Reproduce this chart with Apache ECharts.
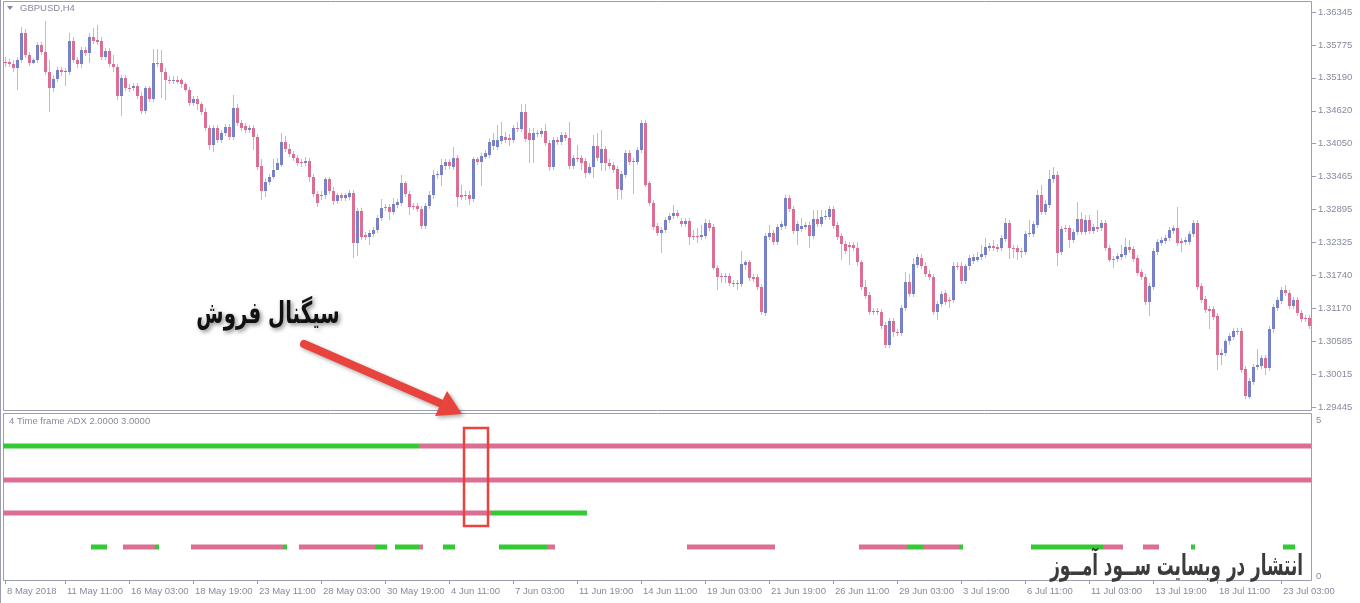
<!DOCTYPE html>
<html><head><meta charset="utf-8">
<script src="https://cdn.jsdelivr.net/npm/echarts@6/dist/echarts.min.js"></script>
<style>html,body{margin:0;padding:0;background:#fff}#c{width:1360px;height:603px}</style>
</head><body><div id="c"></div>
<script>
// GBPUSD H4 candles: [open, close, low, high]
const candles = [
[1.3548,1.3546,1.3539,1.3556],[1.3548,1.3544,1.3539,1.3553],[1.3544,1.3536,1.3530,1.3550],[1.3536,1.3550,1.3499,1.3556],
[1.3550,1.3598,1.3546,1.3609],[1.3598,1.3560,1.3555,1.3604],[1.3560,1.3546,1.3541,1.3565],[1.3546,1.3550,1.3543,1.3555],
[1.3550,1.3577,1.3546,1.3583],[1.3577,1.3565,1.3560,1.3583],[1.3565,1.3530,1.3525,1.3618],[1.3530,1.3501,1.3460,1.3551],
[1.3501,1.3518,1.3495,1.3525],[1.3518,1.3534,1.3513,1.3539],[1.3534,1.3529,1.3523,1.3539],[1.3529,1.3532,1.3506,1.3537],
[1.3530,1.3584,1.3525,1.3598],[1.3584,1.3551,1.3546,1.3590],[1.3551,1.3543,1.3537,1.3556],[1.3543,1.3569,1.3537,1.3574],
[1.3569,1.3563,1.3558,1.3574],[1.3563,1.3590,1.3546,1.3598],[1.3590,1.3584,1.3579,1.3607],[1.3586,1.3583,1.3577,1.3612],
[1.3584,1.3556,1.3551,1.3590],[1.3556,1.3567,1.3551,1.3572],[1.3567,1.3544,1.3539,1.3572],[1.3544,1.3539,1.3530,1.3560],
[1.3539,1.3487,1.3481,1.3544],[1.3487,1.3520,1.3452,1.3525],[1.3520,1.3502,1.3497,1.3525],[1.3502,1.3501,1.3495,1.3508],
[1.3502,1.3506,1.3497,1.3511],[1.3506,1.3488,1.3483,1.3511],[1.3488,1.3462,1.3457,1.3494],[1.3462,1.3501,1.3457,1.3506],
[1.3501,1.3483,1.3478,1.3506],[1.3483,1.3546,1.3478,1.3570],[1.3546,1.3544,1.3539,1.3570],[1.3546,1.3530,1.3485,1.3569],
[1.3530,1.3515,1.3481,1.3536],[1.3516,1.3515,1.3509,1.3522],[1.3515,1.3516,1.3509,1.3522],[1.3516,1.3513,1.3508,1.3522],
[1.3515,1.3508,1.3502,1.3520],[1.3508,1.3499,1.3494,1.3513],[1.3499,1.3476,1.3471,1.3504],[1.3476,1.3483,1.3471,1.3488],
[1.3483,1.3473,1.3464,1.3488],[1.3473,1.3460,1.3455,1.3478],[1.3460,1.3432,1.3427,1.3466],[1.3432,1.3403,1.3394,1.3438],
[1.3403,1.3432,1.3390,1.3438],[1.3432,1.3411,1.3406,1.3438],[1.3411,1.3424,1.3406,1.3429],[1.3424,1.3434,1.3418,1.3439],
[1.3434,1.3417,1.3411,1.3439],[1.3417,1.3467,1.3411,1.3490],[1.3467,1.3441,1.3436,1.3473],[1.3441,1.3432,1.3427,1.3446],
[1.3436,1.3429,1.3424,1.3441],[1.3429,1.3432,1.3424,1.3438],[1.3432,1.3417,1.3394,1.3438],[1.3417,1.3364,1.3359,1.3422],
[1.3366,1.3322,1.3307,1.3377],[1.3322,1.3338,1.3312,1.3345],[1.3338,1.3347,1.3333,1.3352],[1.3347,1.3359,1.3342,1.3377],
[1.3359,1.3371,1.3366,1.3380],[1.3368,1.3408,1.3363,1.3424],[1.3408,1.3396,1.3390,1.3418],[1.3396,1.3387,1.3382,1.3404],
[1.3387,1.3380,1.3375,1.3392],[1.3380,1.3371,1.3366,1.3385],[1.3373,1.3371,1.3363,1.3378],[1.3371,1.3375,1.3366,1.3382],
[1.3375,1.3347,1.3338,1.3380],[1.3347,1.3317,1.3312,1.3352],[1.3317,1.3301,1.3294,1.3322],[1.3315,1.3314,1.3307,1.3321],
[1.3314,1.3342,1.3308,1.3347],[1.3342,1.3322,1.3317,1.3347],[1.3322,1.3305,1.3298,1.3328],[1.3305,1.3314,1.3300,1.3319],
[1.3314,1.3310,1.3305,1.3319],[1.3310,1.3314,1.3305,1.3319],[1.3312,1.3319,1.3307,1.3324],[1.3319,1.3231,1.3205,1.3324],
[1.3231,1.3287,1.3209,1.3293],[1.3287,1.3242,1.3237,1.3293],[1.3245,1.3242,1.3237,1.3251],[1.3242,1.3249,1.3228,1.3254],
[1.3247,1.3254,1.3242,1.3259],[1.3254,1.3275,1.3249,1.3280],[1.3275,1.3293,1.3270,1.3308],[1.3294,1.3293,1.3287,1.3300],
[1.3294,1.3286,1.3272,1.3300],[1.3286,1.3300,1.3280,1.3310],[1.3298,1.3303,1.3293,1.3308],[1.3301,1.3335,1.3296,1.3350],
[1.3335,1.3317,1.3312,1.3340],[1.3317,1.3294,1.3280,1.3322],[1.3296,1.3294,1.3289,1.3301],[1.3296,1.3291,1.3286,1.3301],
[1.3291,1.3261,1.3256,1.3296],[1.3261,1.3296,1.3256,1.3301],[1.3296,1.3315,1.3291,1.3321],[1.3314,1.3349,1.3308,1.3359],
[1.3349,1.3352,1.3342,1.3357],[1.3350,1.3368,1.3331,1.3377],[1.3366,1.3373,1.3359,1.3378],[1.3373,1.3366,1.3361,1.3378],
[1.3364,1.3380,1.3359,1.3399],[1.3380,1.3312,1.3294,1.3385],[1.3315,1.3312,1.3307,1.3333],[1.3315,1.3314,1.3307,1.3321],
[1.3315,1.3308,1.3298,1.3321],[1.3308,1.3377,1.3303,1.3382],[1.3377,1.3373,1.3368,1.3382],[1.3373,1.3383,1.3331,1.3389],
[1.3382,1.3389,1.3377,1.3394],[1.3385,1.3408,1.3380,1.3415],[1.3401,1.3411,1.3394,1.3424],[1.3399,1.3411,1.3394,1.3438],
[1.3410,1.3418,1.3404,1.3443],[1.3417,1.3411,1.3406,1.3425],[1.3415,1.3411,1.3401,1.3422],[1.3411,1.3432,1.3406,1.3438],
[1.3432,1.3431,1.3425,1.3443],[1.3431,1.3460,1.3425,1.3474],[1.3460,1.3413,1.3408,1.3473],[1.3424,1.3411,1.3371,1.3432],
[1.3411,1.3424,1.3371,1.3432],[1.3424,1.3422,1.3417,1.3429],[1.3422,1.3427,1.3417,1.3432],[1.3427,1.3406,1.3401,1.3439],
[1.3406,1.3364,1.3357,1.3411],[1.3364,1.3411,1.3359,1.3417],[1.3411,1.3408,1.3403,1.3417],[1.3408,1.3420,1.3403,1.3425],
[1.3420,1.3415,1.3410,1.3425],[1.3415,1.3366,1.3361,1.3443],[1.3366,1.3380,1.3361,1.3385],[1.3380,1.3378,1.3373,1.3403],
[1.3380,1.3371,1.3359,1.3385],[1.3375,1.3354,1.3345,1.3380],[1.3354,1.3364,1.3349,1.3370],[1.3364,1.3401,1.3345,1.3420],
[1.3401,1.3380,1.3375,1.3424],[1.3371,1.3396,1.3356,1.3429],[1.3396,1.3371,1.3356,1.3401],[1.3371,1.3366,1.3361,1.3377],
[1.3368,1.3359,1.3354,1.3373],[1.3361,1.3326,1.3307,1.3366],[1.3324,1.3352,1.3308,1.3357],[1.3350,1.3389,1.3345,1.3394],
[1.3389,1.3373,1.3368,1.3394],[1.3375,1.3373,1.3317,1.3380],[1.3373,1.3394,1.3368,1.3399],[1.3394,1.3441,1.3389,1.3446],
[1.3441,1.3333,1.3328,1.3446],[1.3335,1.3301,1.3296,1.3340],[1.3301,1.3259,1.3254,1.3307],[1.3261,1.3249,1.3244,1.3266],
[1.3249,1.3254,1.3214,1.3259],[1.3254,1.3272,1.3249,1.3277],[1.3272,1.3279,1.3266,1.3284],[1.3279,1.3284,1.3273,1.3298],
[1.3284,1.3279,1.3275,1.3289],[1.3270,1.3265,1.3259,1.3275],[1.3265,1.3270,1.3259,1.3275],[1.3270,1.3242,1.3228,1.3275],
[1.3244,1.3242,1.3237,1.3254],[1.3244,1.3242,1.3231,1.3258],[1.3242,1.3245,1.3237,1.3263],[1.3244,1.3266,1.3238,1.3273],
[1.3266,1.3258,1.3252,1.3272],[1.3259,1.3188,1.3183,1.3265],[1.3188,1.3172,1.3149,1.3193],[1.3174,1.3172,1.3162,1.3179],
[1.3172,1.3174,1.3162,1.3179],[1.3174,1.3162,1.3156,1.3179],[1.3162,1.3160,1.3155,1.3167],[1.3162,1.3160,1.3149,1.3167],
[1.3160,1.3195,1.3155,1.3217],[1.3193,1.3197,1.3184,1.3202],[1.3197,1.3170,1.3165,1.3202],[1.3172,1.3169,1.3163,1.3177],
[1.3172,1.3155,1.3149,1.3177],[1.3155,1.3111,1.3106,1.3160],[1.3109,1.3244,1.3104,1.3249],[1.3242,1.3249,1.3237,1.3263],
[1.3249,1.3233,1.3228,1.3254],[1.3233,1.3259,1.3228,1.3265],[1.3259,1.3265,1.3254,1.3270],[1.3261,1.3310,1.3256,1.3314],
[1.3310,1.3291,1.3286,1.3315],[1.3291,1.3252,1.3247,1.3296],[1.3252,1.3265,1.3228,1.3270],[1.3256,1.3261,1.3251,1.3275],
[1.3259,1.3263,1.3254,1.3268],[1.3263,1.3244,1.3223,1.3268],[1.3244,1.3273,1.3238,1.3289],[1.3273,1.3265,1.3259,1.3289],
[1.3265,1.3277,1.3259,1.3289],[1.3277,1.3279,1.3272,1.3289],[1.3277,1.3291,1.3272,1.3296],[1.3291,1.3261,1.3256,1.3296],
[1.3263,1.3242,1.3237,1.3268],[1.3244,1.3230,1.3202,1.3249],[1.3230,1.3217,1.3212,1.3235],[1.3228,1.3224,1.3193,1.3233],
[1.3228,1.3223,1.3217,1.3233],[1.3223,1.3197,1.3191,1.3233],[1.3197,1.3155,1.3149,1.3202],[1.3155,1.3139,1.3134,1.3167],
[1.3141,1.3111,1.3106,1.3146],[1.3113,1.3111,1.3106,1.3118],[1.3111,1.3113,1.3106,1.3118],[1.3111,1.3086,1.3081,1.3116],
[1.3088,1.3053,1.3048,1.3093],[1.3053,1.3095,1.3048,1.3100],[1.3095,1.3076,1.3066,1.3100],[1.3076,1.3074,1.3069,1.3081],
[1.3074,1.3118,1.3069,1.3123],[1.3118,1.3163,1.3113,1.3181],[1.3163,1.3142,1.3137,1.3176],[1.3142,1.3195,1.3137,1.3205],
[1.3193,1.3207,1.3188,1.3212],[1.3205,1.3191,1.3186,1.3212],[1.3191,1.3177,1.3172,1.3197],[1.3177,1.3172,1.3167,1.3183],
[1.3172,1.3111,1.3106,1.3177],[1.3111,1.3125,1.3097,1.3130],[1.3125,1.3142,1.3120,1.3148],[1.3144,1.3128,1.3123,1.3149],
[1.3132,1.3130,1.3118,1.3137],[1.3132,1.3191,1.3127,1.3197],[1.3191,1.3190,1.3184,1.3197],[1.3191,1.3165,1.3160,1.3197],
[1.3165,1.3190,1.3160,1.3195],[1.3190,1.3205,1.3184,1.3210],[1.3200,1.3207,1.3195,1.3212],[1.3202,1.3207,1.3197,1.3216],
[1.3207,1.3212,1.3202,1.3228],[1.3210,1.3224,1.3205,1.3240],[1.3223,1.3226,1.3217,1.3231],[1.3226,1.3223,1.3217,1.3237],
[1.3224,1.3221,1.3216,1.3230],[1.3223,1.3240,1.3217,1.3245],[1.3238,1.3266,1.3233,1.3275],[1.3266,1.3223,1.3203,1.3272],
[1.3223,1.3221,1.3205,1.3228],[1.3223,1.3216,1.3202,1.3228],[1.3217,1.3216,1.3205,1.3223],[1.3216,1.3247,1.3210,1.3252],
[1.3247,1.3249,1.3242,1.3272],[1.3247,1.3265,1.3242,1.3270],[1.3263,1.3315,1.3258,1.3324],[1.3315,1.3286,1.3280,1.3333],
[1.3286,1.3300,1.3280,1.3307],[1.3298,1.3343,1.3293,1.3359],[1.3342,1.3350,1.3336,1.3364],[1.3350,1.3214,1.3191,1.3356],
[1.3216,1.3256,1.3210,1.3261],[1.3258,1.3256,1.3251,1.3263],[1.3258,1.3237,1.3223,1.3263],[1.3237,1.3251,1.3231,1.3256],
[1.3251,1.3273,1.3245,1.3303],[1.3273,1.3251,1.3245,1.3286],[1.3251,1.3272,1.3245,1.3280],[1.3272,1.3252,1.3247,1.3280],
[1.3252,1.3259,1.3247,1.3265],[1.3259,1.3256,1.3251,1.3289],[1.3258,1.3266,1.3252,1.3272],[1.3266,1.3223,1.3217,1.3272],
[1.3223,1.3202,1.3197,1.3228],[1.3203,1.3202,1.3188,1.3209],[1.3203,1.3209,1.3198,1.3214],[1.3207,1.3212,1.3202,1.3228],
[1.3210,1.3224,1.3205,1.3240],[1.3224,1.3219,1.3214,1.3237],[1.3221,1.3203,1.3198,1.3226],[1.3205,1.3179,1.3174,1.3210],
[1.3181,1.3172,1.3167,1.3186],[1.3172,1.3128,1.3123,1.3177],[1.3128,1.3156,1.3104,1.3162],[1.3155,1.3217,1.3149,1.3223],
[1.3216,1.3233,1.3210,1.3238],[1.3231,1.3237,1.3226,1.3242],[1.3235,1.3240,1.3230,1.3245],[1.3240,1.3254,1.3235,1.3259],
[1.3252,1.3258,1.3247,1.3263],[1.3258,1.3231,1.3226,1.3294],[1.3235,1.3231,1.3216,1.3240],[1.3233,1.3237,1.3228,1.3242],
[1.3233,1.3247,1.3228,1.3252],[1.3247,1.3266,1.3242,1.3272],[1.3266,1.3155,1.3149,1.3272],[1.3156,1.3132,1.3127,1.3162],
[1.3134,1.3114,1.3109,1.3139],[1.3116,1.3113,1.3080,1.3121],[1.3116,1.3102,1.3097,1.3121],[1.3104,1.3036,1.3010,1.3109],
[1.3036,1.3039,1.3018,1.3045],[1.3039,1.3059,1.3034,1.3064],[1.3059,1.3069,1.3053,1.3074],[1.3067,1.3078,1.3062,1.3083],
[1.3078,1.3076,1.3071,1.3083],[1.3078,1.3010,1.3004,1.3083],[1.3011,1.2964,1.2959,1.3017],[1.2962,1.2990,1.2959,1.2996],
[1.2989,1.3015,1.2983,1.3020],[1.3015,1.3018,1.3010,1.3045],[1.3017,1.3031,1.3011,1.3036],[1.3031,1.3013,1.3001,1.3036],
[1.3013,1.3081,1.3008,1.3086],[1.3080,1.3120,1.3074,1.3125],[1.3118,1.3132,1.3113,1.3137],[1.3130,1.3149,1.3125,1.3155],
[1.3149,1.3144,1.3139,1.3158],[1.3144,1.3121,1.3116,1.3149],[1.3121,1.3132,1.3116,1.3137],[1.3132,1.3109,1.3104,1.3137],
[1.3109,1.3099,1.3093,1.3114],[1.3100,1.3099,1.3093,1.3106],[1.3100,1.3086,1.3081,1.3106]
];

const priceTickLabels = ['1.29445','1.30015','1.30585','1.31170','1.31740','1.32325','1.32895','1.33465','1.34050','1.34620','1.35190','1.35775','1.36345'];
const xTickLabels = ['8 May 2018','11 May 11:00','16 May 03:00','18 May 19:00','23 May 11:00','28 May 03:00','30 May 19:00','4 Jun 11:00','7 Jun 03:00','11 Jun 19:00','14 Jun 11:00','19 Jun 03:00','21 Jun 19:00','26 Jun 11:00','29 Jun 03:00','3 Jul 19:00','6 Jul 11:00','11 Jul 03:00','13 Jul 19:00','18 Jul 11:00','23 Jul 03:00'];
const xTickBars = [0,15,31,47,63,79,95,111,127,143,159,175,191,207,223,239,255,271,287,303,319];

// 4 Time frame ADX: [firstBar, lastBar, colour] per level (4 = top line ... 1 = bottom line)
const adxLevel4 = [[0,103,'green'],[104,326,'pink']];
const adxLevel3 = [[0,326,'pink']];
const adxLevel2 = [[0,121,'pink'],[122,145,'green']];
const adxLevel1 = [[22,25,'green'],[30,37,'pink'],[38,38,'green'],[47,69,'pink'],[70,70,'green'],[74,92,'pink'],[93,95,'green'],[98,103,'green'],[104,104,'pink'],[110,112,'green'],[124,135,'green'],[136,137,'pink'],[171,192,'pink'],[214,225,'pink'],[226,229,'green'],[230,238,'pink'],[239,239,'green'],[257,274,'green'],[275,279,'pink'],[285,288,'pink'],[297,297,'green'],[320,322,'green']];
const adxScaleLabels = ['0','5'];

const BLUE = '#7781c7', PINK = '#db6f92', GREEN = '#35c935', WICK = '#bdbdca';
const FRAME = '#9c9eb0', TXT = '#868a9e';
const FONT = '"Liberation Sans", Arial, sans-serif';

const categories = candles.map((_, i) => String(i));
const candleData = candles.map((d, i) => [i, d[0], d[1], d[2], d[3]]);
const adxData = [];
[[4, adxLevel4], [3, adxLevel3], [2, adxLevel2], [1, adxLevel1]].forEach(([lvl, segs]) => {
  segs.forEach(s => adxData.push([s[0], s[1], lvl, s[2] === 'green' ? 0 : 1]));
});

function renderCandle(params, api) {
  const i = api.value(0), o = api.value(1), c = api.value(2), l = api.value(3), h = api.value(4);
  const cx = Math.round(api.coord([i, o])[0]);
  const yo = api.coord([i, o])[1], yc = api.coord([i, c])[1];
  const yl = Math.round(api.coord([i, l])[1]), yh = Math.round(api.coord([i, h])[1]);
  const top = Math.round(Math.min(yo, yc)), bot = Math.round(Math.max(yo, yc));
  return {
    type: 'group', children: [
      { type: 'rect', shape: { x: cx, y: yh, width: 1, height: Math.max(1, yl - yh) }, style: { fill: WICK } },
      { type: 'rect', shape: { x: cx - 1, y: top, width: 3, height: Math.max(1, bot - top) }, style: { fill: c >= o ? BLUE : PINK } }
    ]
  };
}
function renderSeg(params, api) {
  const s = api.value(0), e = api.value(1), lvl = api.value(2), col = api.value(3);
  const p1 = api.coord([s, lvl]), p2 = api.coord([e, lvl]);
  const bw = api.size([1, 0])[0];
  const x0 = p1[0] - bw / 2, x1 = p2[0] + bw / 2;
  return { type: 'rect', shape: { x: x0, y: Math.round(p1[1]) - 2.5, width: x1 - x0, height: 5 }, style: { fill: col ? PINK : GREEN } };
}

const chart = echarts.init(document.getElementById('c'), null, { renderer: 'canvas' });
const GL = 3, GW = 1308;
const priceAxisBase = { type: 'value', min: 1.29445, max: 1.36345, interval: 0.00575 };
chart.setOption({
  animation: false,
  backgroundColor: '#ffffff',
  grid: [
    { left: GL, width: GW, top: 2, height: 408 },
    { left: GL, width: GW, top: 12, height: 395 },
    { left: GL, width: GW, top: 413, height: 167 },
    { left: GL, width: GW, top: 420, height: 156 },
    { left: 1312, width: 4, top: 12, height: 395 }
  ],
  xAxis: [
    { gridIndex: 0, type: 'category', data: categories, show: false },
    { gridIndex: 1, type: 'value', min: 0, max: 1, show: false },
    { gridIndex: 2, type: 'category', data: categories,
      axisLine: { show: false },
      axisTick: { show: true, alignWithLabel: true, length: 4, lineStyle: { color: FRAME },
        interval: (idx) => xTickBars.indexOf(idx) >= 0 },
      axisLabel: { show: true, align: 'left', margin: 6, padding: [0, 0, 0, 2], fontSize: 9.5, fontFamily: FONT, color: TXT,
        interval: (idx) => xTickBars.indexOf(idx) >= 0,
        formatter: (v, idx) => { const k = xTickBars.indexOf(idx); return k >= 0 ? xTickLabels[k] : ''; } },
      splitLine: { show: false } },
    { gridIndex: 3, type: 'value', min: 0, max: 1, show: false },
    { gridIndex: 4, type: 'value', min: 0, max: 1, show: false }
  ],
  yAxis: [
    { gridIndex: 0, type: 'value', min: 1.29393, max: 1.36520, show: false, scale: true },
    Object.assign({ gridIndex: 1, position: 'right',
      axisLine: { show: false }, splitLine: { show: false }, axisTick: { show: false },
      axisLabel: { margin: 7, fontSize: 9.5, fontFamily: FONT, color: TXT,
        formatter: (v) => { const k = Math.round((v - 1.29445) / 0.00575); return priceTickLabels[k] || ''; } } }, priceAxisBase),
    { gridIndex: 2, type: 'value', min: 0, max: 5, show: false },
    { gridIndex: 3, type: 'value', position: 'right', min: 0, max: 5, interval: 5,
      axisLine: { show: false }, splitLine: { show: false }, axisTick: { show: false },
      axisLabel: { margin: 5, fontSize: 9.5, fontFamily: FONT, color: TXT,
        formatter: (v) => adxScaleLabels[Math.round(v / 5)] } },
    Object.assign({ gridIndex: 4, axisLine: { show: false }, axisTick: { show: false }, axisLabel: { show: false },
      splitLine: { show: true, lineStyle: { color: FRAME, width: 1 } } }, priceAxisBase)
  ],
  series: [
    { type: 'custom', name: 'GBPUSD,H4', xAxisIndex: 0, yAxisIndex: 0, data: candleData,
      encode: { x: 0, y: [1, 2, 3, 4] }, renderItem: renderCandle, z: 3 },
    { type: 'custom', name: '4 Time frame ADX', xAxisIndex: 2, yAxisIndex: 2, data: adxData,
      encode: { x: [0, 1], y: 2 }, renderItem: renderSeg, z: 3 }
  ],
  graphic: [
    { type: 'line', shape: { x1: 0.5, y1: 0, x2: 0.5, y2: 603 }, style: { stroke: FRAME, lineWidth: 1 }, z: 1 },
    { type: 'rect', shape: { x: 3.5, y: 1.5, width: 1308, height: 409 }, style: { stroke: FRAME, fill: null, lineWidth: 1 }, z: 1 },
    { type: 'rect', shape: { x: 3.5, y: 413.5, width: 1308, height: 167 }, style: { stroke: FRAME, fill: null, lineWidth: 1 }, z: 1 },
    { type: 'polygon', shape: { points: [[7, 6], [13, 6], [10, 10]] }, style: { fill: TXT }, z: 10 },
    { type: 'text', x: 20, y: 8, style: { text: 'GBPUSD,H4', font: '9.5px ' + FONT, fill: TXT, verticalAlign: 'middle' }, z: 10 },
    { type: 'text', x: 9, y: 421, style: { text: '4 Time frame ADX 2.0000 3.0000', font: '9.5px ' + FONT, fill: TXT, verticalAlign: 'middle' }, z: 10 },
    { type: 'text', x: 268, y: 315, scaleX: 0.76, scaleY: 1.15, style: { text: 'سیگنال فروش', font: 'bold 26px "DejaVu Sans", sans-serif', fill: '#111111', align: 'center', verticalAlign: 'middle',
        shadowBlur: 4, shadowColor: 'rgba(0,0,0,0.45)', shadowOffsetX: 2, shadowOffsetY: 2,
        textShadowBlur: 4, textShadowColor: 'rgba(0,0,0,0.45)', textShadowOffsetX: 2, textShadowOffsetY: 2 }, z: 20 },
    { type: 'line', shape: { x1: 304, y1: 344, x2: 442, y2: 404 }, style: { stroke: '#e8433d', lineWidth: 8, lineCap: 'round',
        shadowBlur: 4, shadowColor: 'rgba(0,0,0,0.35)', shadowOffsetX: 2, shadowOffsetY: 2 }, z: 20 },
    { type: 'polygon', shape: { points: [[462, 414], [435, 416], [447, 391]] }, style: { fill: '#e8433d',
        shadowBlur: 4, shadowColor: 'rgba(0,0,0,0.35)', shadowOffsetX: 2, shadowOffsetY: 2 }, z: 20 },
    { type: 'rect', shape: { x: 464, y: 428, width: 24, height: 98 }, style: { stroke: '#e8433d', fill: null, lineWidth: 2.5 }, z: 20 },
    { type: 'text', x: 1303, y: 568, scaleX: 0.73, scaleY: 1.25, style: { text: 'انتشار در وبسایت ســود آمــوز', font: 'bold 23px "DejaVu Sans", sans-serif', fill: '#3b3b3b', align: 'right', verticalAlign: 'middle' }, z: 20 }
  ]
});
</script>
</body></html>
